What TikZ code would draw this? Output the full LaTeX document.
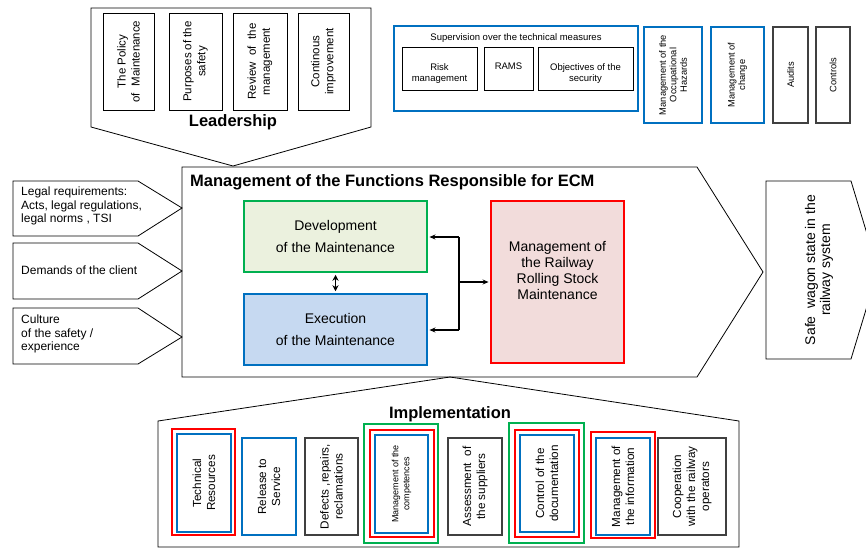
\documentclass[tikz,border=0pt]{standalone}
\usepackage{fontspec}
\setmainfont{Liberation Sans}
\usetikzlibrary{arrows.meta}
\definecolor{cgreen}{HTML}{00B050}
\definecolor{cblue}{HTML}{0070C0}
\definecolor{cred}{HTML}{FF0000}
\definecolor{cgray}{HTML}{404040}
\definecolor{fgreen}{HTML}{EBF1DE}
\definecolor{fblue}{HTML}{C6D9F1}
\definecolor{fred}{HTML}{F2DCDB}
\newcommand{\fs}[2]{\fontsize{#1}{#2}\selectfont}
\begin{document}
\begin{tikzpicture}[x=1pt,y=-1pt,
  outline/.style={draw=black, line width=0.8pt, line join=miter},
  lbox/.style={draw=black, line width=0.8pt, inner sep=0pt, align=center},
  kbox/.style={draw=cgray, line width=1.2pt, inner sep=0pt, align=center},
  bbox/.style={draw=cblue, line width=1.5pt, inner sep=0pt, align=center},
  rbox/.style={draw=cred, line width=1.5pt, inner sep=0pt, align=center},
  gbox/.style={draw=cgreen, line width=1.4pt, inner sep=0pt, align=center},
  vt/.style={rotate=90},
  txt/.style={inner sep=0pt, align=center},
  conn/.style={line width=1.5pt, -{Stealth[length=6pt,width=5pt]}},
  title/.style={inner sep=0pt, font=\bfseries\fs{16.5}{18}}
]
\useasboundingbox (0,0) rectangle (866,547);

% ---------- Leadership ----------
\draw[outline] (91,8) -- (371,8) -- (371,127) -- (233,166) -- (91,127) -- cycle;
\begin{scope}[every node/.append style={font=\fs{11.5}{14}}]
\node[lbox, vt, minimum width=97, minimum height=51] (l1) at (128.5,61.5) {The Policy\\of\ \ Maintenance};
\node[lbox, vt, minimum width=97, minimum height=53] (l2) at (195.5,61.5) {Purposes of the\\safety};
\node[lbox, vt, minimum width=97, minimum height=54] (l3) at (260,61.5) {Review\ \ of\ \ the\\management};
\node[lbox, vt, minimum width=97, minimum height=51] (l4) at (323.5,61.5) {Continous\\improvement};
\end{scope}
\node[title] (lead) at (233,122) {Leadership};

% ---------- Supervision ----------
\node[bbox, minimum width=244, minimum height=85] (sup) at (516,68.5) {};
\node[txt, font=\fs{9.5}{11}] (supt) at (516,38) {Supervision over the technical measures};
\node[lbox, minimum width=75, minimum height=43] (risk) at (439.5,68.5) {};
\node[lbox, minimum width=49, minimum height=43] (rams) at (508.5,68.5) {};
\node[lbox, minimum width=95, minimum height=43] (obj) at (585.5,68.5) {};
\begin{scope}[every node/.append style={txt, anchor=north, font=\fs{9.5}{11}}]
\node (riskt) at (439.5,63) {Risk\\management};
\node (ramst) at (508.5,63) {RAMS};
\node (objt) at (585.5,63) {Objectives of the\\security};
\end{scope}

% ---------- top right boxes ----------
\begin{scope}[every node/.append style={font=\fs{9.3}{10.5}}]
\node[bbox, vt, minimum width=96, minimum height=58] (occ) at (673,75) {Management of the\\Occupational\\Hazards};
\node[bbox, vt, minimum width=96, minimum height=53] (chg) at (737.5,75) {Management of\\change};
\node[kbox, vt, minimum width=96, minimum height=35] (aud) at (790.5,75) {Audits};
\node[kbox, vt, minimum width=96, minimum height=34] (ctl) at (833,75) {Controls};
\end{scope}

% ---------- left inputs ----------
\draw[outline] (13,181) -- (138,181) -- (182,208) -- (138,236) -- (13,236) -- cycle;
\draw[outline] (13,243) -- (138,243) -- (182,271) -- (138,299) -- (13,299) -- cycle;
\draw[outline] (13,308) -- (138,308) -- (182,337) -- (138,364) -- (13,364) -- cycle;
\begin{scope}[every node/.append style={inner sep=0pt, align=left, anchor=west, font=\fs{12}{13.5}}]
\node (in1) at (21,206) {Legal requirements:\\Acts, legal regulations,\\legal norms , TSI};
\node (in2) at (21,270) {Demands of the client};
\node (in3) at (21,334) {Culture\\of the safety /\\experience};
\end{scope}

% ---------- main box ----------
\draw[outline] (182,167) -- (697,167) -- (763,272) -- (697,377) -- (182,377) -- cycle;
\node[title, anchor=west] (mt) at (190,182) {Management of the Functions Responsible for ECM};

\node[draw=cgreen, fill=fgreen, line width=2.5pt, minimum width=183, minimum height=71, align=center, font=\fs{14}{22}] (dev) at (335.5,236.5) {Development\\of the Maintenance};
\node[draw=cblue, fill=fblue, line width=2.5pt, minimum width=183, minimum height=71, align=center, font=\fs{14}{22}] (exe) at (335.5,329.5) {Execution\\of the Maintenance};
\node[draw=cred, fill=fred, line width=2.5pt, minimum width=133, minimum height=162] (rsm) at (557.5,282) {};
\node[txt, font=\fs{14}{16}] (rsmt) at (557.5,270) {Management of\\the Railway\\Rolling Stock\\Maintenance};

\draw[line width=1.8pt, {Stealth[length=6pt,width=6pt]}-{Stealth[length=6pt,width=6pt]}] ([yshift=-1.5pt]dev.south) -- ([yshift=1.5pt]exe.north);
\coordinate (j1) at (459,237);
\coordinate (j2) at (459,330);
\coordinate (j3) at (459,282);
\draw[line width=1.5pt] (j1) -- (j2);
\draw[conn] (j1) -- ([xshift=1.2pt]j1 -| dev.east);
\draw[conn] (j2) -- ([xshift=1.2pt]j2 -| exe.east);
\draw[conn] (j3) -- ([xshift=-1.2pt]j3 -| rsm.west);

% ---------- output ----------
\draw[outline] (766,181) -- (851,181) -- (878,270) -- (851,359) -- (766,359) -- cycle;
\node[txt, vt, font=\fs{14}{15}] (safe) at (819,270) {Safe\ \ wagon state in the\\railway system};

% ---------- Implementation ----------
\draw[outline] (158,421) -- (450,377) -- (739,421) -- (739,547) -- (158,547) -- cycle;
\node[title] (impl) at (450,414) {Implementation};

\begin{scope}[every node/.append style={font=\fs{11.7}{14}}]
\node[rbox, minimum width=63, minimum height=106] (tr) at (203.5,482) {};
\node[bbox, vt, minimum width=98, minimum height=54] (tb) at (204,483) {Technical\\Resources};
\node[bbox, vt, minimum width=97, minimum height=54] (rel) at (269,486.5) {Release to\\Service};
\node[kbox, vt, minimum width=97, minimum height=53] (def) at (331.5,486.5) {Defects ,repairs,\\reclamations};
\node[gbox, minimum width=74, minimum height=119] (cg) at (401,483.5) {};
\node[rbox, minimum width=64, minimum height=107] (cr) at (402,483.5) {};
\node[bbox, vt, minimum width=98, minimum height=53, font=\fs{9}{11}] (cb) at (401.5,484) {Management of the\\competences};
\node[kbox, vt, minimum width=97, minimum height=54] (ass) at (475,486.5) {Assessment\ \ of\\the suppliers};
\node[gbox, minimum width=75, minimum height=120] (dg) at (546.5,483) {};
\node[rbox, minimum width=64, minimum height=107] (dr) at (547,483.5) {};
\node[bbox, vt, minimum width=97, minimum height=54] (db) at (547,483.5) {Control of the\\documentation};
\node[rbox, minimum width=64, minimum height=106] (ir) at (623,485) {};
\node[bbox, vt, minimum width=97, minimum height=54] (ib) at (623,486.5) {Management of\\the information};
\node[kbox, vt, minimum width=97, minimum height=68] (coop) at (692,486.5) {Cooperation\\with the railway\\operators};
\end{scope}
\end{tikzpicture}
\end{document}
